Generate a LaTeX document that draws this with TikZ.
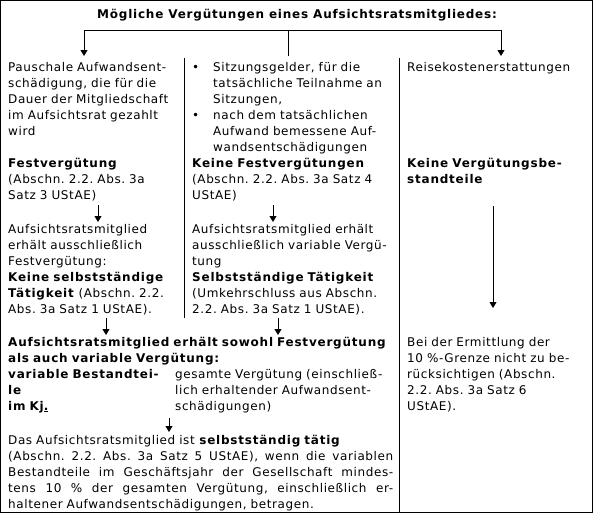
\documentclass[tikz,border=0pt]{standalone}
\usepackage{fontspec}
\setmainfont{DejaVu Sans}[LetterSpace=5, BoldFeatures={LetterSpace=6.5}]
\usetikzlibrary{arrows.meta}
\newcommand\fs{\fontsize{12}{16}\selectfont\frenchspacing}
\newcommand\jline[1]{\leavevmode\hbox to 385pt{\spaceskip=0.32em plus 1fil\relax #1}}
\tikzset{
  txt/.style={anchor=base west, inner sep=0pt, align=left, text width=#1, font=\fs},
  txt/.default=300pt,
  arr/.style={-{Triangle[length=6pt,width=7pt]}, line width=1pt},
  rulel/.style={line width=1pt},
}
\begin{document}
\begin{tikzpicture}[x=1pt,y=-1pt]
\useasboundingbox (0,0) rectangle (594,514);
\draw[rulel] (0.5,0.5) rectangle (592.5,512.5);
% dividers
\coordinate (d1t) at (184,58); \coordinate (d1b) at (184,318);
\coordinate (d2t) at (399,58); \coordinate (d2b) at (399,512.5);
\draw[rulel] (d1t) -- (d1b);
\draw[rulel] (d2t) -- (d2b);
% title
\node[anchor=base, inner sep=0pt, font=\fs\bfseries] (title) at (297,18) {Mögliche Vergütungen eines Aufsichtsratsmitgliedes:};
% branch
\coordinate (bl) at (84,30); \coordinate (bm) at (288,30); \coordinate (br) at (501,30);
\coordinate (bmd) at (288,56); \coordinate (bld) at (84,56); \coordinate (brd) at (501,56);
\draw[rulel] (bl) -- (br);
\draw[rulel] (bm) -- (bmd);
\draw[arr] (bl) -- (bld);
\draw[arr] (br) -- (brd);
% column 1
\node[txt] (c1a) at (8,71) {Pauschale Aufwandsent-\\schädigung, die für die\\Dauer der Mitgliedschaft\\im Aufsichtsrat gezahlt\\wird};
\node[txt] (c1b) at (8,167) {\textbf{Festvergütung}\\(Abschn. 2.2. Abs. 3a\\Satz 3 UStAE)};
\node[txt] (c1c) at (8,233) {Aufsichtsratsmitglied\\erhält ausschließlich\\Festvergütung:\\\textbf{Keine selbstständige}\\\textbf{Tätigkeit} (Abschn. 2.2.\\Abs. 3a Satz 1 UStAE).};
% column 2
\node[txt] (c2a) at (192,71) {\makebox[21pt][l]{•}Sitzungsgelder, für die\\\hspace*{21pt}tatsächliche Teilnahme an\\\hspace*{21pt}Sitzungen,\\\makebox[21pt][l]{•}nach dem tatsächlichen\\\hspace*{21pt}Aufwand bemessene Auf-\\\hspace*{21pt}wandsentschädigungen};
\node[txt] (c2b) at (192,167) {\textbf{Keine Festvergütungen}\\(Abschn. 2.2. Abs. 3a Satz 4\\UStAE)};
\node[txt] (c2c) at (192,233) {Aufsichtsratsmitglied erhält\\ausschließlich variable Vergü-\\tung\\\textbf{Selbstständige Tätigkeit}\\(Umkehrschluss aus Abschn.\\2.2. Abs. 3a Satz 1 UStAE).};
% column 3
\node[txt] (c3a) at (407,71) {Reisekostenerstattungen};
\node[txt] (c3b) at (407,167) {\textbf{Keine Vergütungsbe-}\\\textbf{standteile}};
\node[txt] (c3c) at (407,346) {Bei der Ermittlung der\\10 \%-Grenze nicht zu be-\\rücksichtigen (Abschn.\\2.2. Abs. 3a Satz 6\\UStAE).};
% bottom
\node[txt=420pt] (b1) at (8,346) {\textbf{Aufsichtsratsmitglied erhält sowohl Festvergütung}\\\textbf{als auch variable Vergütung:}};
\node[txt] (b2) at (8,378) {\textbf{variable Bestandtei-}\\\textbf{le}\\\textbf{im Kj\underline{.}}};
\node[txt] (b3) at (175,378) {gesamte Vergütung (einschließ-\\lich erhaltender Aufwandsent-\\schädigungen)};
\node[txt=420pt] (b4) at (8,444) {Das Aufsichtsratsmitglied ist \textbf{selbstständig tätig}\\\jline{(Abschn. 2.2. Abs. 3a Satz 5 UStAE), wenn die variablen}\\\jline{Bestandteile im Geschäftsjahr der Gesellschaft mindes-}\\\jline{tens 10 \% der gesamten Vergütung, einschließlich er-}\\haltener Aufwandsentschädigungen, betragen.};
% arrows
\coordinate (a1s) at (98,205); \coordinate (a1e) at (98,222);
\coordinate (a2s) at (273,205); \coordinate (a2e) at (273,222);
\coordinate (a3s) at (493,206); \coordinate (a3e) at (493,308);
\coordinate (a4s) at (106,318); \coordinate (a4e) at (106,335);
\coordinate (a5s) at (278,318); \coordinate (a5e) at (278,335);
\coordinate (a6s) at (169,418); \coordinate (a6e) at (169,432);
\draw[arr] (a1s) -- (a1e);
\draw[arr] (a2s) -- (a2e);
\draw[arr] (a3s) -- (a3e);
\draw[arr] (a4s) -- (a4e);
\draw[arr] (a5s) -- (a5e);
\draw[arr] (a6s) -- (a6e);
\end{tikzpicture}
\end{document}
